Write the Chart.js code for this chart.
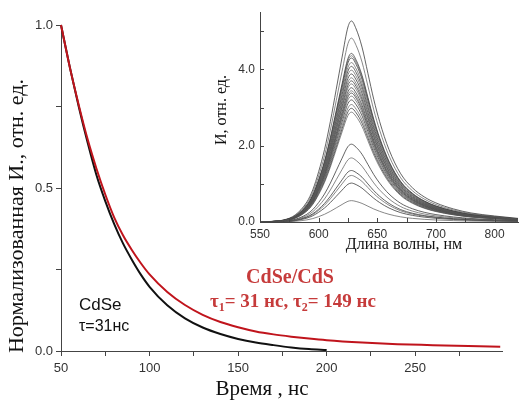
<!DOCTYPE html>
<html>
<head>
<meta charset="utf-8">
<script src="https://cdn.jsdelivr.net/npm/chart.js@4"></script>
<style>
  body { margin: 0; background: #fff; }
  #wrap { position: relative; width: 520px; height: 401px; }
  #decay { position: absolute; left: 0; top: 0; }
  #spectra { position: absolute; left: 200px; top: 0; }
</style>
</head>
<body>
<div id="wrap">
  <canvas id="decay" width="520" height="401"></canvas>
  <canvas id="spectra" width="320" height="260"></canvas>
</div>
<script>
// кинетика затухания люминесценции (нормализованная)
const timeCdSe = [50, 55, 60, 65, 70, 75, 80, 85, 90, 95, 100, 110, 120, 130, 140, 150, 160, 170, 180, 190, 200];
const decayCdSe = [1.0, 0.87, 0.75, 0.64, 0.54, 0.46, 0.39, 0.33, 0.28, 0.235, 0.197, 0.14, 0.10, 0.072, 0.052, 0.037, 0.026, 0.018, 0.011, 0.006, 0.003];

const timeCdSeCdS = [50, 55, 60, 65, 70, 75, 80, 85, 90, 95, 100, 110, 120, 130, 140, 150, 160, 170, 180, 190, 200, 220, 240, 260, 280, 298];
const decayCdSeCdS = [1.0, 0.87, 0.755, 0.65, 0.56, 0.48, 0.41, 0.355, 0.31, 0.27, 0.235, 0.181, 0.141, 0.111, 0.089, 0.073, 0.060, 0.051, 0.044, 0.038, 0.033, 0.026, 0.021, 0.018, 0.015, 0.013];

// спектры люминесценции: форма полосы и высоты максимумов
const wavelengths = [550, 560, 570, 580, 590, 595, 600, 605, 610, 615, 620, 625, 628, 632, 637, 642, 647, 652, 660, 670, 680, 690, 700, 715, 730, 750, 770];
const spectrumShape = [0, 0.003, 0.01, 0.035, 0.10, 0.16, 0.25, 0.36, 0.50, 0.66, 0.82, 0.97, 1.0, 0.96, 0.87, 0.74, 0.61, 0.50, 0.36, 0.24, 0.17, 0.125, 0.095, 0.065, 0.045, 0.03, 0.018];
const peakHeights = [5.27, 4.82, 4.42, 4.36, 4.30, 4.18, 4.08, 3.98, 3.88, 3.78, 3.70, 3.62, 3.52, 3.44, 3.38, 3.30, 3.20, 3.08, 2.98, 2.88, 2.04, 1.68, 1.35, 1.22, 1.02, 0.56];

const spectrumTickValues = [550, 600, 650, 700, 750];
const spectrumTickLabels = ['550', '600', '650', '700', '800'];

const SANS = "'Liberation Sans', Arial, sans-serif";
const SERIF = "'Liberation Serif', 'Times New Roman', serif";
const RED = '#c0141c';

function points(xs, ys) {
  return xs.map((x, i) => ({ x: x, y: ys[i] }));
}

// подписи осей и текст на графике
const decayText = {
  id: 'decayText',
  afterDraw(chart) {
    const ctx = chart.ctx;
    ctx.save();
    ctx.fillStyle = '#111';
    ctx.textAlign = 'center';
    ctx.textBaseline = 'middle';
    ctx.font = '21px ' + SERIF;
    ctx.fillText('Время , нс', 262, 389);
    ctx.save();
    ctx.translate(17, 216);
    ctx.rotate(-Math.PI / 2);
    ctx.font = '22px ' + SERIF;
    ctx.fillText('Нормализованная И., отн. ед.', 0, 0);
    ctx.restore();

    ctx.textAlign = 'left';
    ctx.font = '17px ' + SANS;
    ctx.fillText('CdSe', 79, 305);
    ctx.font = '16px ' + SANS;
    ctx.fillText('τ=31нс', 79, 327);

    ctx.fillStyle = '#c63b3b';
    ctx.font = 'bold 20px ' + SERIF;
    ctx.textAlign = 'center';
    ctx.fillText('CdSe/CdS', 290, 278);

    // строка с подстрочными индексами
    const parts = [['τ', 0], ['1', 1], ['= 31 нс, τ', 0], ['2', 1], ['= 149 нс', 0]];
    const small = 'bold 12px ' + SERIF;
    const big = 'bold 19px ' + SERIF;
    let total = 0;
    parts.forEach(p => { ctx.font = p[1] ? small : big; total += ctx.measureText(p[0]).width; });
    let x = 293 - total / 2;
    ctx.textAlign = 'left';
    parts.forEach(p => {
      ctx.font = p[1] ? small : big;
      ctx.fillText(p[0], x, p[1] ? 308 : 302);
      x += ctx.measureText(p[0]).width;
    });
    ctx.restore();
  }
};

new Chart(document.getElementById('decay'), {
  type: 'line',
  data: {
    datasets: [
      {
        label: 'CdSe/CdS',
        data: points(timeCdSeCdS, decayCdSeCdS),
        borderColor: RED,
        borderWidth: 2,
        pointRadius: 0,
        cubicInterpolationMode: 'monotone',
        clip: 4
      },
      {
        label: 'CdSe',
        data: points(timeCdSe, decayCdSe),
        borderColor: '#111',
        borderWidth: 2,
        pointRadius: 0,
        cubicInterpolationMode: 'monotone',
        clip: 4
      }
    ]
  },
  options: {
    responsive: false,
    animation: false,
    layout: { padding: { left: 0, top: 25, right: 18, bottom: 0 } },
    plugins: { legend: { display: false }, tooltip: { enabled: false } },
    scales: {
      x: {
        type: 'linear',
        min: 50,
        max: 299,
        afterFit: s => { s.height = 50; },
        border: { color: '#444', width: 1 },
        grid: { drawOnChartArea: false, tickLength: 5, color: '#444' },
        ticks: {
          stepSize: 25,
          includeBounds: false,
          padding: 5,
          color: '#333',
          font: { family: SANS, size: 13 },
          maxRotation: 0,
          autoSkip: false,
          callback: v => (v % 50 === 0 ? String(v) : '')
        }
      },
      y: {
        min: 0,
        max: 1,
        afterFit: s => { s.width = 61; },
        border: { color: '#444', width: 1 },
        grid: { drawOnChartArea: false, tickLength: 5, color: '#444' },
        ticks: {
          stepSize: 0.25,
          padding: 3,
          color: '#333',
          font: { family: SANS, size: 13 },
          callback: v => (v % 0.5 === 0 ? v.toFixed(1) : '')
        }
      }
    }
  },
  plugins: [decayText]
});

// засечки внутрь и подписи осей вставки
const spectraDecor = {
  id: 'spectraDecor',
  afterDraw(chart) {
    const { ctx, scales: { x, y } } = chart;
    ctx.save();
    ctx.strokeStyle = '#444';
    ctx.lineWidth = 1;
    ctx.beginPath();
    x.ticks.forEach(t => {
      const px = Math.round(x.getPixelForValue(t.value)) + 0.5;
      ctx.moveTo(px, x.top);
      ctx.lineTo(px, x.top - 4);
    });
    y.ticks.forEach(t => {
      const py = Math.round(y.getPixelForValue(t.value)) + 0.5;
      ctx.moveTo(y.right, py);
      ctx.lineTo(y.right + 4, py);
    });
    ctx.stroke();

    ctx.fillStyle = '#111';
    ctx.textAlign = 'center';
    ctx.textBaseline = 'middle';
    ctx.font = '16px ' + SERIF;
    ctx.fillText('Длина волны, нм', 204, 245);
    ctx.translate(22, 110);
    ctx.rotate(-Math.PI / 2);
    ctx.fillText('И, отн. ед.', 0, 0);
    ctx.restore();
  }
};

new Chart(document.getElementById('spectra'), {
  type: 'line',
  data: {
    datasets: peakHeights.map((h, k) => ({
      data: wavelengths.map((w, i) => ({ x: w, y: spectrumShape[i] * h })),
      borderColor: k % 2 ? '#6a6a6a' : '#3c3c3c',
      borderWidth: 0.8,
      pointRadius: 0,
      cubicInterpolationMode: 'monotone'
    }))
  },
  options: {
    responsive: false,
    animation: false,
    layout: { padding: { left: 0, top: 8, right: 2, bottom: 0 } },
    plugins: { legend: { display: false }, tooltip: { enabled: false } },
    scales: {
      x: {
        type: 'linear',
        min: 550,
        max: 770,
        afterFit: s => { s.height = 38; },
        border: { color: '#444', width: 1 },
        grid: { display: false, drawTicks: false },
        ticks: {
          stepSize: 25,
          includeBounds: false,
          padding: 5,
          color: '#333',
          font: { family: SANS, size: 12 },
          maxRotation: 0,
          autoSkip: false,
          callback: v => {
            const i = spectrumTickValues.indexOf(v);
            return i >= 0 ? spectrumTickLabels[i] : '';
          }
        }
      },
      y: {
        min: 0,
        max: 5.5,
        afterFit: s => { s.width = 60; },
        border: { color: '#444', width: 1 },
        grid: { display: false, drawTicks: false },
        ticks: {
          stepSize: 1,
          includeBounds: false,
          padding: 5,
          color: '#333',
          font: { family: SANS, size: 12 },
          callback: v => (v % 2 === 0 ? v.toFixed(1) : '')
        }
      }
    }
  },
  plugins: [spectraDecor]
});
</script>
</body>
</html>
